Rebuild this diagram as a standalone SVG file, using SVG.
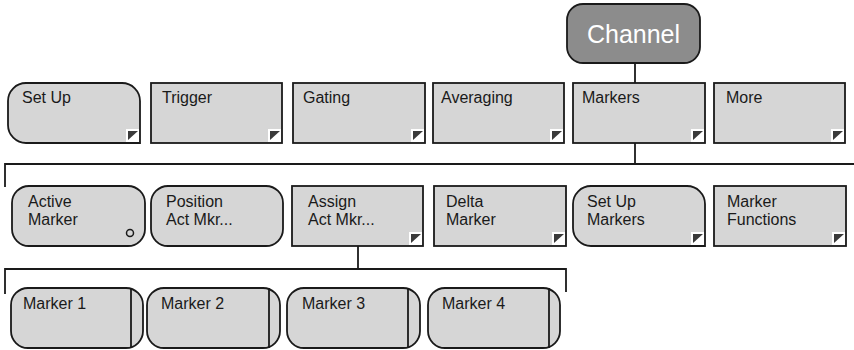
<svg xmlns="http://www.w3.org/2000/svg" width="854" height="350" viewBox="0 0 854 350">
<defs>
<style>
.box{fill:#d6d6d6;stroke:#1a1a1a;stroke-width:1.8}
.ch{fill:#8c8c8c;stroke:#1a1a1a;stroke-width:1.8}
.t{font-family:"Liberation Sans",Arial,sans-serif;font-size:16px;fill:#1a1a1a}
.ct{font-family:"Liberation Sans",Arial,sans-serif;font-size:25px;fill:#ffffff}
.ln{stroke:#1a1a1a;stroke-width:1.8;fill:none}
.sq{fill:#ffffff}
.tri{fill:#3a3a3a}
</style>
<g id="corner">
<rect class="sq" x="-14" y="-14" width="13" height="13"/>
<polygon class="tri" points="-12,-12 -2,-12 -12,-3"/>
</g>
</defs>
<rect width="854" height="350" fill="#ffffff"/>
<g id="connectors">
<line class="ln" x1="635" y1="63" x2="635" y2="83"/>
<line class="ln" x1="635" y1="143" x2="635" y2="164"/>
<polyline class="ln" points="5,187 5,164 854,164"/>
<line class="ln" x1="358" y1="246" x2="358" y2="269"/>
<polyline class="ln" points="5,294 5,269 566,269 566,292"/>
</g>
<g id="channel">
<rect class="ch" x="567" y="4" width="133" height="59" rx="16"/>
<text class="ct" x="633.5" y="43" text-anchor="middle">Channel</text>
</g>
<g id="setup">
<path class="box" d="M26 83H122A18 18 0 0 1 140 101V143H26A18 18 0 0 1 8 125V101A18 18 0 0 1 26 83Z"/>
<use href="#corner" x="140" y="143"/>
<text class="t" x="22" y="103">Set Up</text>
</g>
<g id="trigger">
<rect class="box" x="151" y="83" width="131" height="60"/>
<use href="#corner" x="282" y="143"/>
<text class="t" x="162" y="103">Trigger</text>
</g>
<g id="gating">
<rect class="box" x="293" y="83" width="132" height="60"/>
<use href="#corner" x="425" y="143"/>
<text class="t" x="303" y="103">Gating</text>
</g>
<g id="averaging">
<rect class="box" x="433" y="83" width="131" height="60"/>
<use href="#corner" x="564" y="143"/>
<text class="t" x="441" y="103">Averaging</text>
</g>
<g id="markers">
<rect class="box" x="573" y="83" width="132" height="60"/>
<use href="#corner" x="705" y="143"/>
<text class="t" x="582" y="103">Markers</text>
</g>
<g id="more">
<rect class="box" x="714" y="83" width="131" height="60"/>
<use href="#corner" x="845" y="143"/>
<text class="t" x="726" y="103">More</text>
</g>
<g id="active-marker">
<rect class="box" x="12" y="186" width="133" height="60" rx="17"/>
<circle cx="130" cy="233" r="3.5" fill="none" stroke="#1a1a1a" stroke-width="1.5"/>
<text class="t" x="28" y="207">Active</text>
<text class="t" x="28" y="225">Marker</text>
</g>
<g id="position">
<rect class="box" x="151" y="186" width="132" height="60" rx="17"/>
<text class="t" x="166" y="207">Position</text>
<text class="t" x="166" y="225">Act Mkr...</text>
</g>
<g id="assign">
<rect class="box" x="292" y="186" width="131" height="60"/>
<use href="#corner" x="423" y="246"/>
<text class="t" x="308" y="207">Assign</text>
<text class="t" x="308" y="225">Act Mkr...</text>
</g>
<g id="delta">
<rect class="box" x="434" y="186" width="132" height="60"/>
<use href="#corner" x="566" y="246"/>
<text class="t" x="446" y="207">Delta</text>
<text class="t" x="446" y="225">Marker</text>
</g>
<g id="setup-markers">
<path class="box" d="M591 186H687A18 18 0 0 1 705 204V246H591A18 18 0 0 1 573 228V204A18 18 0 0 1 591 186Z"/>
<use href="#corner" x="705" y="246"/>
<text class="t" x="587" y="207">Set Up</text>
<text class="t" x="587" y="225">Markers</text>
</g>
<g id="marker-functions">
<rect class="box" x="714" y="186" width="132" height="60"/>
<use href="#corner" x="846" y="246"/>
<text class="t" x="727" y="207">Marker</text>
<text class="t" x="727" y="225">Functions</text>
</g>
<g id="marker1">
<rect class="box" x="11" y="288" width="132" height="60" rx="17"/>
<line class="ln" x1="131" y1="288" x2="131" y2="348"/>
<text class="t" x="23" y="309">Marker 1</text>
</g>
<g id="marker2">
<rect class="box" x="147" y="288" width="133" height="60" rx="17"/>
<line class="ln" x1="269" y1="288" x2="269" y2="348"/>
<text class="t" x="161" y="309">Marker 2</text>
</g>
<g id="marker3">
<rect class="box" x="287" y="288" width="133" height="60" rx="17"/>
<line class="ln" x1="408" y1="288" x2="408" y2="348"/>
<text class="t" x="302" y="309">Marker 3</text>
</g>
<g id="marker4">
<rect class="box" x="428" y="288" width="132" height="60" rx="17"/>
<line class="ln" x1="549" y1="288" x2="549" y2="348"/>
<text class="t" x="442" y="309">Marker 4</text>
</g>
</svg>
